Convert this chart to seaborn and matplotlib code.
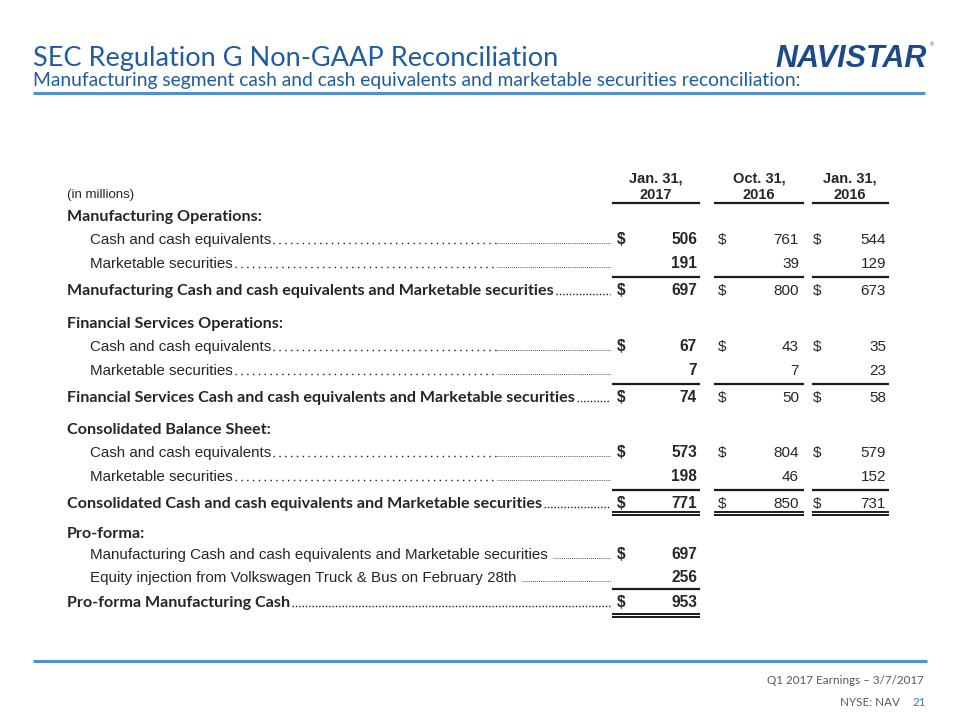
import matplotlib
matplotlib.use("Agg")
import matplotlib.pyplot as plt
import seaborn as sns

# --- values (in millions) ---
col_headers = ["Jan. 31,\n2017", "Oct. 31,\n2016", "Jan. 31,\n2016"]

mfg_cash = [506, 761, 544]
mfg_mkt = [191, 39, 129]
mfg_total = [697, 800, 673]

fs_cash = [67, 43, 35]
fs_mkt = [7, 7, 23]
fs_total = [74, 50, 58]

cons_cash = [573, 804, 579]
cons_mkt = [198, 46, 152]
cons_total = [771, 850, 731]

section_titles = ["Manufacturing Operations:", "Financial Services Operations:",
                  "Consolidated Balance Sheet:"]
sub_labels = ["Cash and cash equivalents", "Marketable securities"]
total_labels = ["Manufacturing Cash and cash equivalents and Marketable securities",
                "Financial Services Cash and cash equivalents and Marketable securities",
                "Consolidated Cash and cash equivalents and Marketable securities"]

proforma_title = "Pro-forma:"
proforma_labels = ["Manufacturing Cash and cash equivalents and Marketable securities",
                   "Equity injection from Volkswagen Truck & Bus on February 28th",
                   "Pro-forma Manufacturing Cash"]
proforma_values = [697, 256, 953]

# --- styling ---
BLUE = "#1F5CA3"
RULE = "#4F8FD3"
NAVY = "#1B4A8A"
GREY = "#595959"
CAL = ["Lato", "DejaVu Sans"]
ARIAL = ["Liberation Sans", "DejaVu Sans"]
SUB_FS = 10.9
TOT_FS = 11.6

sns.set_theme(style="white")
plt.rcParams["font.family"] = ["Liberation Sans", "DejaVu Sans"]

fig = plt.figure(figsize=(9.6, 7.2), dpi=100)
ax = fig.add_axes([0, 0, 1, 1])
ax.set_xlim(0, 960)
ax.set_ylim(720, 0)
ax.axis("off")

# header
ax.text(33, 66, "SEC Regulation G Non-GAAP Reconciliation", family=CAL, fontsize=19.5,
        color=BLUE, va="baseline")
ax.text(33, 86, "Manufacturing segment cash and cash equivalents and marketable securities reconciliation:",
        family=CAL, fontsize=13.9, color=BLUE, va="baseline")
ax.hlines(93, 33, 925, color=RULE, lw=2.2)
ax.text(775, 67, "NAVISTAR", family=ARIAL, fontsize=22, fontweight="bold", style="italic",
        color=NAVY, va="baseline")
ax.text(930, 46, "®", fontsize=3.5, color=NAVY, va="baseline")

# footer
ax.hlines(661, 33, 927, color=RULE, lw=2.2)
ax.text(924, 684, "Q1 2017 Earnings – 3/7/2017", family=CAL, fontsize=8.4, color=GREY,
        ha="right", va="baseline")
ax.text(900, 706, "NYSE: NAV", family=CAL, fontsize=8.4, color=GREY, ha="right", va="baseline")
ax.text(926, 706, "21", family=CAL, fontsize=8.4, color="#3C7DC4", ha="right", va="baseline")

# table geometry
DOLLAR_X = [617, 718, 813]
NUM_X = [697, 799, 886]
HEAD_X = [656, 759, 850]
SPANS = [(612, 700), (714, 804), (812, 889)]
LEADER_END = 610

for hx, h in zip(HEAD_X, col_headers):
    ax.text(hx, 199, h, family=ARIAL, fontsize=10.5, fontweight="bold", ha="center",
            va="baseline", linespacing=1.2)
for a, b in SPANS:
    ax.hlines(203, a, b, color="k", lw=1.6)
ax.text(67, 198, "(in millions)", family=ARIAL, fontsize=9.5, va="baseline")

leaders = []


def label(x, y, s, kind):
    if kind in ("sub", "sub2"):
        t = ax.text(x, y, s, family=ARIAL, fontsize=SUB_FS, va="baseline")
    else:
        t = ax.text(x, y, s, family=CAL, fontsize=TOT_FS, fontweight="bold", va="baseline")
    leaders.append((t, y, kind))


def values(y, vals, dollar, ncols=3):
    for i in range(ncols):
        bold = i == 0
        fw = "bold" if bold else "normal"
        fs = 11.2 if bold else 11
        if dollar:
            ax.text(DOLLAR_X[i], y, "$", family=ARIAL, fontsize=fs, fontweight=fw, va="baseline")
        ax.text(NUM_X[i], y, f"{vals[i]:,}", family=ARIAL, fontsize=fs, fontweight=fw,
                ha="right", va="baseline")


def rule(y, double=False, ncols=3):
    for a, b in SPANS[:ncols]:
        if double:
            ax.hlines([y, y + 3], a, b, color="k", lw=1.4)
        else:
            ax.hlines(y, a, b, color="k", lw=1.6)


blocks = [(mfg_cash, mfg_mkt, mfg_total), (fs_cash, fs_mkt, fs_total),
          (cons_cash, cons_mkt, cons_total)]
block_y = [221, 328, 434]
for k, (cash, mkt, tot) in enumerate(blocks):
    b = block_y[k]
    ax.text(67, b, section_titles[k], family=CAL, fontsize=TOT_FS, fontweight="bold", va="baseline")
    label(90, b + 23, sub_labels[0], "sub")
    values(b + 23, cash, True)
    label(90, b + 47, sub_labels[1], "sub")
    values(b + 47, mkt, False)
    rule(b + 56)
    label(67, b + 74, total_labels[k], "tot")
    values(b + 74, tot, True)
    if k == 2:
        rule(b + 78, double=True)

# pro-forma
py = 538
ax.text(67, py, proforma_title, family=CAL, fontsize=TOT_FS, fontweight="bold", va="baseline")
label(90, py + 21, proforma_labels[0], "sub2")
values(py + 21, proforma_values[0:1], True, ncols=1)
label(90, py + 44, proforma_labels[1], "sub2")
values(py + 44, proforma_values[1:2], False, ncols=1)
rule(py + 51, ncols=1)
label(67, py + 69, proforma_labels[2], "tot")
values(py + 69, proforma_values[2:3], True, ncols=1)
rule(py + 76, double=True, ncols=1)

# dot leaders after each label
fig.canvas.draw()
r = fig.canvas.get_renderer()
inv = ax.transData.inverted()
for t, y, kind in leaders:
    x0 = inv.transform(t.get_window_extent(r))[1][0] + 2
    if kind == "sub":
        ax.plot([x0, 496], [y - 1, y - 1], color="k", lw=1.0, ls=(0, (1, 3.2)))
        ax.plot([497, LEADER_END], [y - 1, y - 1], color="k", lw=0.6, ls=(0, (1, 1.5)))
    elif kind == "sub2":
        ax.plot([x0 + 3, LEADER_END], [y - 1, y - 1], color="k", lw=0.6, ls=(0, (1, 1.5)))
    else:
        ax.plot([x0, LEADER_END], [y - 1, y - 1], color="k", lw=1.0, ls=(0, (1, 1.4)))

fig.savefig("out.png", dpi=100)
